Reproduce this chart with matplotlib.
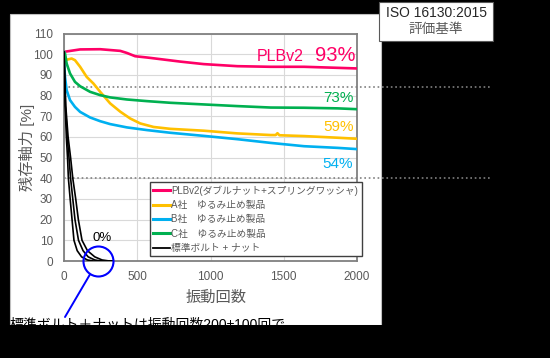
import numpy as np
import matplotlib.pyplot as plt
from matplotlib.patches import Rectangle

plt.rcParams['font.family'] = ['Liberation Sans', 'Noto Sans CJK JP', 'DejaVu Sans']

# data (cycles, residual axial force %)
plb_x = [0, 7, 110, 247, 384, 429, 486, 566, 658, 795, 954, 1183, 1411, 1639, 1868, 2000]
plb_y = [101, 101.2, 102.3, 102.4, 101.6, 100.6, 99, 98.4, 97.6, 96.4, 95.2, 94.2, 93.9, 93.9, 93.4, 93.1]

a_x = [5, 18, 52, 75, 110, 155, 201, 247, 315, 384, 452, 521, 612, 726, 954, 1183, 1411,
       1445, 1457, 1470, 1639, 1868, 2000]
a_y = [99, 97.3, 97.9, 97.1, 93.9, 89, 85.8, 81.8, 76.2, 72.2, 68.9, 66.5, 64.8, 63.9, 63, 61.7, 60.9,
       60.9, 61.8, 60.8, 60.4, 59.6, 59.1]

b_x = [0, 3, 7, 18, 41, 75, 110, 178, 247, 315, 429, 566, 726, 954, 1183, 1411, 1639, 1868, 2000]
b_y = [101, 93, 89, 82.6, 77.8, 74.5, 72.1, 69.4, 67.6, 66.2, 64.6, 63.3, 62, 60.5, 58.9, 57.1, 55.5, 54.7, 54.1]

c_x = [0, 7, 18, 41, 75, 110, 178, 247, 315, 429, 566, 726, 954, 1183, 1411, 1639, 1868, 2000]
c_y = [101, 100.3, 95.5, 90.7, 86.6, 84.5, 81.8, 80.2, 79.1, 78.1, 77.3, 76.5, 75.7, 74.9, 74.2, 74.1, 73.8, 73.4]

std1_x = [0, 8, 16, 24, 30, 42, 55, 68, 90, 120, 160, 200, 330]
std1_y = [101, 75, 60, 50, 40, 30, 20, 10, 5, 2, 0.5, 0, 0]
std2_x = [0, 10, 22, 34, 45, 60, 75, 99, 130, 165, 210, 250, 330]
std2_y = [101, 75, 60, 50, 40, 30, 20, 10, 5, 2, 0.5, 0, 0]
std3_x = [0, 12, 28, 45, 60, 80, 98, 123, 160, 210, 260, 310, 330]
std3_y = [101, 75, 60, 50, 40, 30, 20, 10, 5, 2, 0.5, 0, 0]

legend_labels = ["PLBv2(ダブルナット+スプリングワッシャ)", "A社　ゆるみ止め製品",
                 "B社　ゆるみ止め製品", "C社　ゆるみ止め製品", "標準ボルト + ナット"]
ref_levels = [84, 40]

pink = '#FF0066'
yellow = '#FFC000'
blue = '#00B0F0'
green = '#00B050'
gray = '#595959'

fig = plt.figure(figsize=(5.5, 3.58), dpi=100, facecolor='black')
W, H = 550, 358

# white panel behind the chart
fig.add_artist(Rectangle((10 / W, 1 - 325 / H), 371 / W, 311 / H, transform=fig.transFigure,
                         facecolor='white', edgecolor='#bfbfbf', lw=0.8, zorder=-5))

ax = fig.add_axes([64 / W, 1 - 261 / H, 293 / W, 227.5 / H])
ax.set_xlim(0, 2000)
ax.set_ylim(0, 110)
ax.set_xticks([0, 500, 1000, 1500, 2000])
ax.set_yticks(np.arange(0, 111, 10))
ax.grid(True, color='#D9D9D9', lw=0.8)
ax.set_axisbelow(True)
ax.tick_params(length=0, labelsize=8.5, labelcolor=gray)
ax.tick_params(axis='y', pad=8)
ax.tick_params(axis='x', pad=7)
for s in ax.spines.values():
    s.set_color('#808080')
    s.set_linewidth(1.3)

# reference dotted lines (extend past the plot)
for lv in ref_levels:
    ax.plot([0, 2920], [lv, lv], color='#808080', ls=':', lw=1.2, clip_on=False, zorder=1)

ax.plot(plb_x, plb_y, color=pink, lw=1.9, label=legend_labels[0], zorder=3)
ax.plot(a_x, a_y, color=yellow, lw=1.9, label=legend_labels[1], zorder=3)
ax.plot(b_x, b_y, color=blue, lw=1.9, label=legend_labels[2], zorder=3)
ax.plot(c_x, c_y, color=green, lw=1.9, label=legend_labels[3], zorder=3)
ax.plot(std1_x, std1_y, color='black', lw=1.2, label=legend_labels[4], zorder=4)
ax.plot(std2_x, std2_y, color='black', lw=1.2, zorder=4)
ax.plot(std3_x, std3_y, color='black', lw=1.2, zorder=4)

leg = ax.legend(loc='upper left', bbox_to_anchor=(0.2935, 0.3486), fontsize=7,
                frameon=True, fancybox=False, framealpha=1, edgecolor='#404040',
                handlelength=1.75, handletextpad=0.1, labelspacing=0.45,
                borderpad=0.35, borderaxespad=0)
leg.get_frame().set_linewidth(1.0)
for t in leg.get_texts():
    t.set_color(gray)
for h in leg.get_lines():
    h.set_linewidth(2.2 if h.get_color() != 'black' else 1.3)

ax.set_ylabel("残存軸力 [%]", fontsize=11, color=gray, va='center')
ax.yaxis.set_label_coords(-0.126, 0.5)
ax.set_xlabel("振動回数", fontsize=11, color=gray, va='center')
ax.xaxis.set_label_coords(0.52, -0.163)

# end-value labels
ax.text(1637, 96.6, "PLBv2", color=pink, fontsize=11.5, ha='right', va='baseline')
ax.text(1987, 96.6, "93%", color=pink, fontsize=14.5, ha='right', va='baseline')
ax.text(1980, 77, "73%", color=green, fontsize=11, ha='right', va='baseline')
ax.text(1980, 62.9, "59%", color=yellow, fontsize=11, ha='right', va='baseline')
ax.text(1971, 44.8, "54%", color=blue, fontsize=11, ha='right', va='baseline')
ax.text(260, 9.8, "0%", color='black', fontsize=9.5, ha='center', va='baseline')

# blue circle highlighting the standard bolt drop
circle_x, circle_y = 231, 0
ax.plot([circle_x], [circle_y], marker='o', ms=21.6, mfc='none', mec='#0000FF', mew=1.5,
        clip_on=False, zorder=6)
ax.annotate('', xy=(circle_x, circle_y), xycoords='data',
            xytext=(65, H - 317), textcoords='figure pixels',
            arrowprops=dict(arrowstyle='-', color='#0000FF', lw=1.4, shrinkA=0, shrinkB=11.5),
            annotation_clip=False, zorder=6)

# ISO box
fig.text(436, H - 12.7, "ISO 16130:2015", transform=None, fontsize=10, color='#262626',
         ha='center', va='center', zorder=3)
fig.text(436, H - 29.3, "評価基準", transform=None, fontsize=9.8, color=gray,
         ha='center', va='center', zorder=3)
fig.add_artist(Rectangle((379 / W, 1 - 41 / H), 114 / W, 39 / H, transform=fig.transFigure,
                         facecolor='white', edgecolor=gray, lw=0.8, zorder=2))

# bottom caption, partly cut off
fig.text(10 / W, 1 - 318 / H, "標準ボルト＋ナットは振動回数200±100回で", fontsize=10,
         color='black', ha='left', va='top', zorder=3)
fig.add_artist(Rectangle((0, 0), 1, 1 - 325 / H, transform=fig.transFigure,
                         facecolor='black', edgecolor='none', zorder=10))

fig.savefig('out.png', dpi=100, facecolor='black')
